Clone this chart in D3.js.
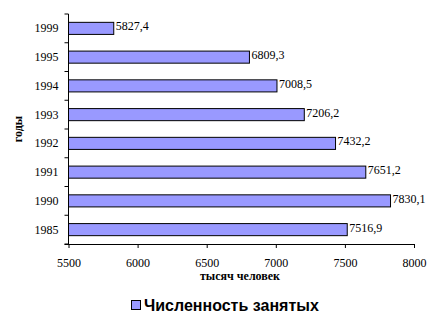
<!DOCTYPE html>
<html>
<head>
<meta charset="utf-8">
<script src="https://cdn.jsdelivr.net/npm/d3@7"></script>
<style>
body{margin:0;background:#fff;}
svg{display:block;}
</style>
</head>
<body>
<script>
let years=["1999","1995","1994","1993","1992","1991","1990","1985"];
let values=[5827.4,6809.3,7008.5,7206.2,7432.2,7651.2,7830.1,7516.9];
let xTicks=[5500,6000,6500,7000,7500,8000];
let seriesName="Численность занятых";

let w=433,h=323;
let padL=68.5,padR=414,padT=14,padB=244;

let svg=d3.select("body").append("svg").attr("width",w).attr("height",h);

let xScale=d3.scaleLinear().domain([5500,8000]).range([padL,padR]);
let yScale=d3.scaleBand().domain(years).range([padT,padB]).paddingInner(0.58).paddingOuter(0.29);

let fmt=v=>d3.format(".1f")(v).replace(".",",");
let serif="12px 'Liberation Serif', serif";

// bars
svg.selectAll("rect.bar").data(values).enter().append("rect").attr("class","bar")
  .attr("x",xScale(5500))
  .attr("y",(d,i)=>yScale(years[i]))
  .attr("width",d=>xScale(d)-xScale(5500))
  .attr("height",yScale.bandwidth())
  .attr("fill","#9999ff").attr("stroke","#000").attr("stroke-width",1);

// value labels
svg.selectAll("text.val").data(values).enter().append("text").attr("class","val")
  .attr("x",d=>xScale(d)+2)
  .attr("y",(d,i)=>yScale(years[i])+yScale.bandwidth()/2+2)
  .style("font",serif).attr("fill","#000")
  .text(d=>fmt(d));

// y axis: line + ticks between categories
let yAx=svg.append("g");
yAx.append("line").attr("x1",padL).attr("x2",padL).attr("y1",padT).attr("y2",padB).attr("stroke","#000");
let step=(padB-padT)/years.length;
d3.range(years.length+1).forEach(i=>{
  yAx.append("line").attr("x1",padL-4).attr("x2",padL).attr("y1",padT+i*step).attr("y2",padT+i*step).attr("stroke","#000");
});
yAx.selectAll("text").data(years).enter().append("text")
  .attr("x",padL-10).attr("y",d=>yScale(d)+yScale.bandwidth()/2+4)
  .attr("text-anchor","end").style("font",serif).text(d=>d);

// x axis
let xAxis=d3.axisBottom(xScale).tickValues(xTicks).tickSize(4).tickPadding(10).tickFormat(d3.format("d"));
let gx=svg.append("g").attr("transform","translate(0,"+padB+")").call(xAxis);
gx.select(".domain").attr("d","M"+(padL-4)+",0.5H"+padR);
gx.selectAll("text").style("font",serif).attr("fill","#000");

// axis titles
svg.append("text").attr("x",240).attr("y",280).attr("text-anchor","middle")
  .style("font","bold 12px 'Liberation Serif', serif").text("тысяч человек");
svg.append("text").attr("transform","translate(22,129) rotate(-90)").attr("text-anchor","middle")
  .style("font","bold 12px 'Liberation Serif', serif").text("годы");

// legend
svg.append("rect").attr("x",131.5).attr("y",300.5).attr("width",9).attr("height",9)
  .attr("fill","#9999ff").attr("stroke","#000");
svg.append("text").attr("x",144).attr("y",311)
  .style("font","bold 16px 'Liberation Sans', Arial, sans-serif").text(seriesName);
</script>
</body>
</html>
